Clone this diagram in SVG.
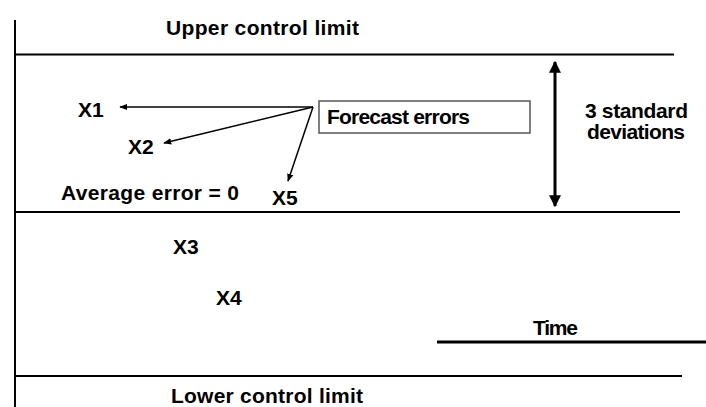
<svg xmlns="http://www.w3.org/2000/svg" width="706" height="407" viewBox="0 0 706 407">
<style>
text{font-family:"Liberation Sans",Arial,sans-serif;font-weight:bold;font-size:21px;fill:#000}
.ln{stroke:#000;stroke-width:2;fill:none}
.thin{stroke:#000;stroke-width:1.5;fill:none;marker-end:url(#ah)}
</style>
<defs>
<marker id="ah" viewBox="0 0 10 10" refX="9" refY="5" markerWidth="8" markerHeight="8" markerUnits="userSpaceOnUse" orient="auto"><path d="M0,1 L10,5 L0,9 Z" fill="#000"/></marker>
<marker id="bh" viewBox="0 0 10 10" refX="9" refY="5" markerWidth="4" markerHeight="4" orient="auto-start-reverse"><path d="M0,0 L10,5 L0,10 Z" fill="#000"/></marker>
</defs>
<g id="axes">
<line class="ln" x1="15" y1="20" x2="15" y2="407"/>
<line class="ln" x1="15" y1="54.5" x2="674" y2="54.5"/>
<line class="ln" x1="15" y1="212" x2="680" y2="212"/>
<line class="ln" x1="15" y1="376" x2="682" y2="376"/>
<line x1="437" y1="342" x2="706" y2="342" stroke="#000" stroke-width="3"/>
</g>
<g id="labels">
<text x="166" y="35" textLength="193">Upper control limit</text>
<text x="61" y="200" textLength="178">Average error = 0</text>
<text x="533" y="335" textLength="45">Time</text>
<text x="171" y="403" textLength="192">Lower control limit</text>
<text x="585" y="118" textLength="103">3 standard</text>
<text x="587" y="139" textLength="98">deviations</text>
</g>
<g id="forecast-errors">
<rect x="319" y="101" width="211" height="32" fill="#fff" stroke="#555" stroke-width="1.5"/>
<text x="327" y="124" textLength="143">Forecast errors</text>
</g>
<g id="x1"><text x="78" y="117">X1</text></g>
<g id="x2"><text x="128" y="154">X2</text></g>
<g id="x3"><text x="173" y="254">X3</text></g>
<g id="x4"><text x="216" y="305">X4</text></g>
<g id="x5"><text x="272" y="205">X5</text></g>
<g id="connectors">
<line class="thin" x1="313" y1="107" x2="120" y2="107"/>
<line class="thin" x1="313" y1="107" x2="164" y2="143"/>
<line class="thin" x1="313" y1="107" x2="288" y2="181"/>
<line x1="555" y1="62" x2="555" y2="206" stroke="#000" stroke-width="3" marker-start="url(#bh)" marker-end="url(#bh)"/>
</g>
</svg>
